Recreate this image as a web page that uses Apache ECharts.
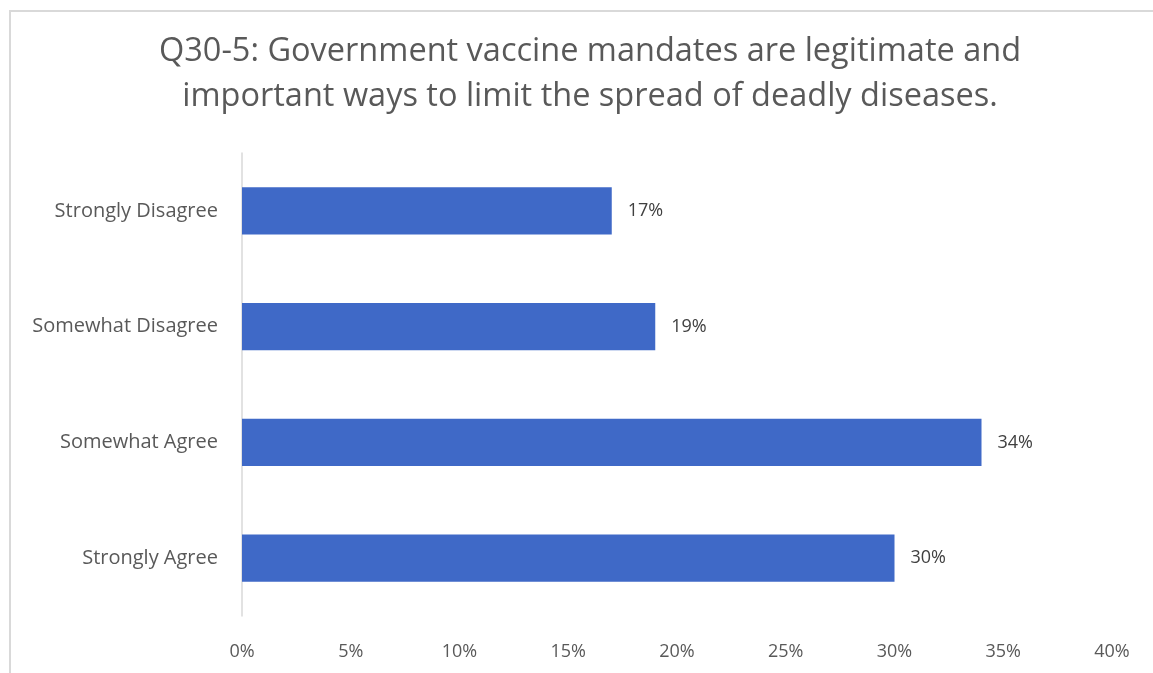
<!DOCTYPE html>
<html>
<head>
<meta charset="utf-8">
<script src="https://cdn.jsdelivr.net/npm/echarts@6/dist/echarts.min.js"></script>
<style>
  html, body { margin: 0; padding: 0; background: #fff; }
  #frame { position: absolute; left: 9px; top: 10px; width: 1160px; height: 680px;
           border-left: 2px solid #d9d9d9; border-top: 2px solid #d9d9d9; box-sizing: border-box; }
  #chart { position: absolute; left: 0; top: 0; width: 1153px; height: 673px; }
</style>
</head>
<body>
<div id="frame"></div>
<div id="chart"></div>
<script>
// Survey responses, listed top to bottom
const categories = ['Strongly Disagree', 'Somewhat Disagree', 'Somewhat Agree', 'Strongly Agree'];
const shares = [17, 19, 34, 30];
const tickMax = 40;
const tickStep = 5;

const FONT = '"Open Sans", Lato, sans-serif';
const chart = echarts.init(document.getElementById('chart'), null, { renderer: 'canvas' });

chart.setOption({
  backgroundColor: 'transparent',
  animation: false,
  title: {
    text: 'Q30-5: Government vaccine mandates are legitimate and\nimportant ways to limit the spread of deadly diseases.',
    left: 585,
    top: 24,
    textAlign: 'center',
    textStyle: { fontFamily: FONT, fontSize: 32.5, fontWeight: 'normal', color: '#595959', lineHeight: 45 }
  },
  grid: { left: 242, right: 41, top: 153, bottom: 57, containLabel: false },
  xAxis: {
    type: 'value',
    min: 0,
    max: tickMax,
    interval: tickStep,
    axisLine: { show: false },
    axisTick: { show: false },
    splitLine: { show: false },
    axisLabel: { formatter: '{value}%', fontFamily: FONT, fontSize: 18, color: '#595959', margin: 27 }
  },
  yAxis: {
    type: 'category',
    inverse: true,
    data: categories,
    axisLine: { show: true, lineStyle: { color: '#d9d9d9', width: 1.5 } },
    axisTick: { show: false },
    axisLabel: { fontFamily: FONT, fontSize: 20, color: '#595959', margin: 24 }
  },
  series: [{
    type: 'bar',
    data: shares,
    barCategoryGap: '59%',
    itemStyle: { color: '#3f69c7' },
    label: {
      show: true,
      position: 'right',
      distance: 16,
      formatter: '{c}%',
      fontFamily: FONT,
      fontSize: 18,
      color: '#404040'
    }
  }]
});
</script>
</body>
</html>
